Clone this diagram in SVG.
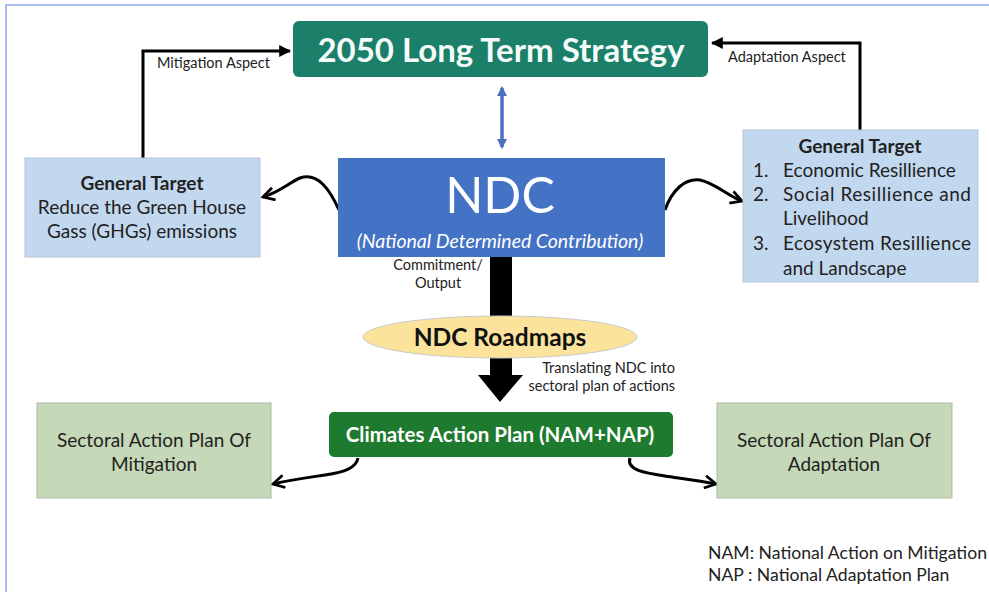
<svg xmlns="http://www.w3.org/2000/svg" width="989" height="592" viewBox="0 0 989 592">
<defs>
<style>
text{font-family:Lato,"Open Sans","Liberation Sans",sans-serif;}
.lbl{font-size:14.5px;fill:#222;}
.body{font-size:19px;fill:#222;}
.conn{fill:none;stroke:#000;stroke-width:3;}
</style>
<marker id="ah" viewBox="0 0 10 10" refX="9" refY="5" markerWidth="4" markerHeight="4" orient="auto" markerUnits="strokeWidth">
<path d="M0,0 L10,5 L0,10 z" fill="#000"/>
</marker>
<marker id="ao" viewBox="0 0 12 12" refX="10" refY="6" markerWidth="5" markerHeight="5" orient="auto" markerUnits="strokeWidth">
<path d="M1,1 L10,6 L1,11" fill="none" stroke="#000" stroke-width="2.2"/>
</marker>
<marker id="ab" viewBox="0 0 10 10" refX="8" refY="5" markerWidth="3" markerHeight="3" orient="auto-start-reverse" markerUnits="strokeWidth">
<path d="M0,0 L10,5 L0,10 z" fill="#4f6fc0"/>
</marker>
</defs>
<rect width="989" height="592" fill="#fff"/>
<path d="M6,592 V5 H989" fill="none" stroke="#8eaae8" stroke-width="1.5"/>

<g id="connectors">
<path class="conn" d="M143,158 V51 H290" marker-end="url(#ah)"/>
<path class="conn" d="M860,130 V43 H712" marker-end="url(#ah)"/>
<path d="M502,88 V147" stroke="#4f6fc0" stroke-width="3.5" fill="none" marker-start="url(#ab)" marker-end="url(#ab)"/>
<path class="conn" stroke-width="2.5" d="M339,210 C330,190 318,172 300,178 C290,182 280,192 263,197" marker-end="url(#ao)"/>
<path class="conn" stroke-width="2.5" d="M665,210 C672,190 685,178 700,180 C715,183 728,196 742,201" marker-end="url(#ao)"/>
<path d="M490,257 H512 V375 H523 L500,402 L478,375 H490 Z" fill="#000"/>
<path class="conn" stroke-width="2.5" d="M358,458 C356,468 345,472 325,475 C305,478 290,480 273,484" marker-end="url(#ao)"/>
<path class="conn" stroke-width="2.5" d="M630,458 C626,470 645,473 665,476 C685,479 700,481 716,484" marker-end="url(#ao)"/>
<text class="lbl" x="157" y="68">Mitigation Aspect</text>
<text class="lbl" x="728" y="62">Adaptation Aspect</text>
<text class="lbl" x="438" y="270" text-anchor="middle">Commitment/</text>
<text class="lbl" x="438" y="288" text-anchor="middle">Output</text>
<text class="lbl" x="675" y="373" text-anchor="end">Translating NDC into</text>
<text class="lbl" x="675" y="391" text-anchor="end">sectoral plan of actions</text>
</g>

<g id="lts">
<rect x="293" y="21" width="415" height="56" rx="6" fill="#1b7f69"/>
<text x="501" y="62" text-anchor="middle" font-size="33" font-weight="bold" fill="#f4fbf8">2050 Long Term Strategy</text>
</g>

<g id="ndc">
<rect x="338" y="158" width="327" height="99" fill="#4472c4"/>
<text x="500" y="213" text-anchor="middle" font-size="50" fill="#fff">NDC</text>
<text x="500" y="248" text-anchor="middle" font-size="19.5" font-style="italic" fill="#fff">(National Determined Contribution)</text>
</g>

<g id="mitigation-target">
<rect x="25" y="158" width="235" height="99" fill="#c2d8ef" stroke="#b5c4d4" stroke-width="1"/>
<text class="body" x="142" y="190" text-anchor="middle" font-weight="bold">General Target</text>
<text class="body" x="142" y="214" text-anchor="middle">Reduce the Green House</text>
<text class="body" x="142" y="238" text-anchor="middle">Gass (GHGs) emissions</text>
</g>

<g id="adaptation-target">
<rect x="743" y="130" width="235" height="152" fill="#c2d8ef" stroke="#b5c4d4" stroke-width="1"/>
<text class="body" x="860" y="153" text-anchor="middle" font-weight="bold">General Target</text>
<text class="body" x="753" y="177">1.</text>
<text class="body" x="783" y="177">Economic Resillience</text>
<text class="body" x="753" y="201">2.</text>
<text class="body" x="783" y="201" textLength="188" lengthAdjust="spacing">Social Resillience and</text>
<text class="body" x="783" y="225">Livelihood</text>
<text class="body" x="753" y="250">3.</text>
<text class="body" x="783" y="250" textLength="188" lengthAdjust="spacing">Ecosystem Resillience</text>
<text class="body" x="783" y="275">and Landscape</text>
</g>

<g id="roadmaps">
<ellipse cx="500" cy="337" rx="137" ry="21" fill="#fce39c" stroke="#c9c9c9" stroke-width="1"/>
<text x="500" y="346" text-anchor="middle" font-size="24.5" font-weight="bold" fill="#111">NDC Roadmaps</text>
</g>

<g id="cap">
<rect x="329" y="412" width="344" height="45" rx="5" fill="#1e7a2e"/>
<text x="500" y="442" text-anchor="middle" font-size="20.5" font-weight="bold" fill="#fff">Climates Action Plan (NAM+NAP)</text>
</g>

<g id="sap-mitigation">
<rect x="37" y="403" width="234" height="95" fill="#c5d8b7" stroke="#b0b8a8" stroke-width="1"/>
<text class="body" x="154" y="447" text-anchor="middle">Sectoral Action Plan Of</text>
<text class="body" x="154" y="471" text-anchor="middle">Mitigation</text>
</g>

<g id="sap-adaptation">
<rect x="717" y="403" width="235" height="95" fill="#c5d8b7" stroke="#b0b8a8" stroke-width="1"/>
<text class="body" x="834" y="447" text-anchor="middle">Sectoral Action Plan Of</text>
<text class="body" x="834" y="471" text-anchor="middle">Adaptation</text>
</g>

<g id="legend">
<text x="708" y="559" font-size="17.6" fill="#222">NAM: National Action on Mitigation</text>
<text x="708" y="581" font-size="17.6" fill="#222">NAP : National Adaptation Plan</text>
</g>
</svg>
